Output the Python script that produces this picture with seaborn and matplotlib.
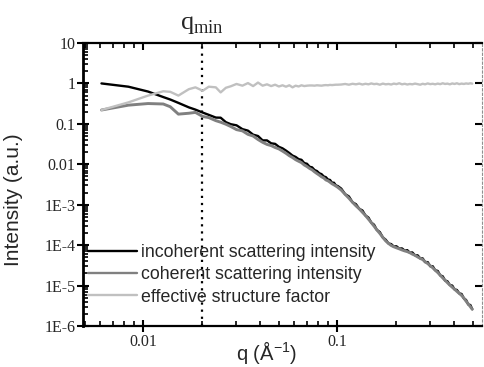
import numpy as np
import pandas as pd
import matplotlib
matplotlib.use("Agg")
import matplotlib.pyplot as plt
import matplotlib.ticker as mticker
import matplotlib.transforms as mtransforms
import seaborn as sns

# Scattering vector q (1/Angstrom)
q = [0.0061, 0.0084, 0.0106, 0.0127, 0.0138, 0.0152, 0.0172, 0.0186, 0.0203, 0.0218,
     0.0237, 0.0251, 0.0267, 0.0283, 0.0303, 0.0325, 0.0347, 0.0369, 0.0391, 0.0413,
     0.0435, 0.0457, 0.0479, 0.0501, 0.0523, 0.0545, 0.0567, 0.0589, 0.0611, 0.0633,
     0.0655, 0.0677, 0.0699, 0.0721, 0.0743, 0.0765, 0.0787, 0.0809, 0.0831, 0.0853,
     0.0875, 0.0897, 0.0919, 0.0941, 0.0963, 0.0985, 0.1007,
     0.105, 0.110, 0.115, 0.120, 0.125, 0.130, 0.135, 0.140, 0.145, 0.150,
     0.155, 0.160, 0.166, 0.172, 0.178, 0.184, 0.190, 0.196, 0.202, 0.209,
     0.216, 0.223, 0.230, 0.237, 0.244, 0.252, 0.260, 0.268, 0.276, 0.284,
     0.293, 0.302, 0.311, 0.320, 0.330, 0.340, 0.350, 0.360, 0.370, 0.381,
     0.392, 0.403, 0.414, 0.426, 0.438, 0.450, 0.462, 0.474, 0.486, 0.497]

incoherent = [1.00, 0.83, 0.63, 0.46, 0.40, 0.33, 0.256, 0.225, 0.19, 0.167,
              0.143, 0.142, 0.110, 0.098, 0.092, 0.074, 0.068, 0.054, 0.050, 0.039,
              0.039, 0.0330, 0.032, 0.0270, 0.0248, 0.0218, 0.0190, 0.0164, 0.0152, 0.0134,
              0.0129, 0.0107, 0.0103, 0.0087, 0.0084, 0.0072, 0.0068, 0.0060, 0.0057, 0.0050,
              0.0048, 0.0042, 0.0041, 0.0035, 0.0035, 0.0030, 0.0029,
              2.5e-3, 1.82e-3, 1.6e-3, 1.15e-3, 1.03e-3, 7.9e-4, 7.2e-4, 5.4e-4, 4.8e-4, 3.6e-4,
              3.2e-4, 2.4e-4, 2.1e-4, 1.55e-4, 1.36e-4, 1.1e-4, 1.06e-4, 9.2e-5, 9.4e-5, 8.2e-5,
              8.3e-5, 7.3e-5, 7.5e-5, 6.5e-5, 6.6e-5, 5.6e-5, 5.6e-5, 4.7e-5, 4.7e-5, 3.8e-5,
              3.8e-5, 3.0e-5, 3.0e-5, 2.4e-5, 2.3e-5, 1.78e-5, 1.7e-5, 1.33e-5, 1.28e-5, 1.03e-5,
              1.0e-5, 8.0e-6, 7.8e-6, 6.4e-6, 6.2e-6, 4.8e-6, 4.4e-6, 3.4e-6, 3.3e-6, 2.6e-6]

coherent = [0.22, 0.29, 0.318, 0.31, 0.265, 0.174, 0.183, 0.192, 0.152, 0.143,
            0.120, 0.110, 0.098, 0.086, 0.072, 0.067, 0.055, 0.050, 0.041, 0.035,
            0.031, 0.029, 0.026, 0.024, 0.0212, 0.0187, 0.0163, 0.0147, 0.0130, 0.0119,
            0.0110, 0.0096, 0.0088, 0.0079, 0.0073, 0.0065, 0.0059, 0.0054, 0.0049, 0.0046,
            0.0041, 0.0039, 0.0036, 0.0033, 0.0031, 0.0029, 0.0027,
            2.3e-3, 1.8e-3, 1.45e-3, 1.15e-3, 9.4e-4, 7.9e-4, 6.5e-4, 5.4e-4, 4.4e-4, 3.6e-4,
            2.95e-4, 2.4e-4, 1.95e-4, 1.55e-4, 1.27e-4, 1.1e-4, 9.8e-5, 9.1e-5, 8.6e-5, 8.1e-5,
            7.6e-5, 7.2e-5, 6.9e-5, 6.5e-5, 6.0e-5, 5.6e-5, 5.1e-5, 4.7e-5, 4.4e-5, 3.9e-5,
            3.5e-5, 3.1e-5, 2.75e-5, 2.4e-5, 2.1e-5, 1.8e-5, 1.55e-5, 1.35e-5, 1.18e-5, 1.03e-5,
            9.1e-6, 8.1e-6, 7.2e-6, 6.4e-6, 5.7e-6, 4.9e-6, 4.1e-6, 3.5e-6, 3.0e-6, 2.6e-6]

structure_factor = [0.22, 0.34, 0.50, 0.64, 0.62, 0.50, 0.72, 0.80, 0.66, 0.83,
                    0.80, 0.60, 0.78, 0.85, 0.97, 0.88, 1.02, 0.86, 1.05, 0.88,
                    0.95, 0.86, 0.93, 0.84, 0.90, 0.83, 0.90, 0.80, 0.88, 0.84,
                    0.90, 0.86, 0.88, 0.89, 0.89, 0.88, 0.90, 0.89, 0.88, 0.90,
                    0.91, 0.90, 0.92, 0.91, 0.92, 0.93, 0.93,
                    0.94, 0.97, 0.93, 0.98, 0.95, 0.99, 0.94, 0.98, 0.95, 1.00,
                    0.96, 0.98, 0.93, 0.99, 0.95, 0.97, 0.94, 0.99, 0.96, 1.01,
                    0.95, 0.98, 0.94, 0.97, 0.95, 0.99, 0.96, 0.93, 0.98, 0.95,
                    1.00, 0.96, 0.98, 0.95, 0.99, 0.96, 1.01, 0.97, 0.99, 0.95,
                    1.00, 0.97, 1.01, 0.96, 0.99, 0.97, 1.00, 0.98, 1.01, 0.99]

series_names = ["incoherent scattering intensity",
                "coherent scattering intensity",
                "effective structure factor"]
series_colors = ["#000000", "#808080", "#c0c0c0"]

q_min = 0.02
x_ticks = [0.01, 0.1]
x_tick_labels = ["0.01", "0.1"]
y_ticks = [10, 1, 0.1, 0.01, 1e-3, 1e-4, 1e-5, 1e-6]
y_tick_labels = ["10", "1", "0.1", "0.01", "1E-3", "1E-4", "1E-5", "1E-6"]

sns.set_style("ticks")
plt.rcParams["font.family"] = ["Liberation Sans", "DejaVu Sans"]
plt.rcParams["mathtext.fontset"] = "custom"
plt.rcParams["mathtext.rm"] = "Liberation Serif"
plt.rcParams["mathtext.sf"] = "Liberation Sans"

df = pd.DataFrame({
    "q": q * 3,
    "value": incoherent + coherent + structure_factor,
    "series": [series_names[0]] * len(q) + [series_names[1]] * len(q) + [series_names[2]] * len(q),
})

W, H = 484, 367
fig = plt.figure(figsize=(W / 100, H / 100), dpi=100)
ax = fig.add_axes([83 / W, 1 - 326 / H, 399 / W, 283 / H])

sns.lineplot(data=df, x="q", y="value", hue="series", hue_order=series_names,
             palette=series_colors, estimator=None, sort=False, linewidth=1.7, ax=ax)
ax.lines[1].set_linewidth(2.1)

ax.set_xscale("log")
ax.set_yscale("log")
ax.set_xlim(0.0049, 0.558)
ax.set_ylim(1e-6, 10)

# q_min marker
ax.axvline(q_min, color="black", linestyle=(0, (1.0, 2.2)), linewidth=1.6, zorder=1)
trans = mtransforms.blended_transform_factory(ax.transData, ax.transAxes)
ax.text(q_min, 1.025, r"q$_{\mathrm{min}}$", transform=trans, ha="center", va="bottom",
        fontfamily="Liberation Serif", fontsize=19)

# ticks
ax.xaxis.set_major_locator(mticker.FixedLocator(x_ticks))
ax.xaxis.set_major_formatter(mticker.FixedFormatter(x_tick_labels))
ax.xaxis.set_minor_locator(mticker.LogLocator(base=10, subs=np.arange(2, 10), numticks=100))
ax.xaxis.set_minor_formatter(mticker.NullFormatter())
ax.yaxis.set_major_locator(mticker.FixedLocator(y_ticks))
ax.yaxis.set_major_formatter(mticker.FixedFormatter(y_tick_labels))
ax.yaxis.set_minor_locator(mticker.LogLocator(base=10, subs=np.arange(2, 10), numticks=100))
ax.yaxis.set_minor_formatter(mticker.NullFormatter())

ax.tick_params(axis="both", which="both", direction="in", top=True, right=True, color="black")
ax.tick_params(axis="both", which="major", length=5, width=1.5, pad=6)
ax.tick_params(axis="both", which="minor", length=3.5, width=1.2)
ax.tick_params(axis="y", which="minor", right=False)
ax.tick_params(axis="y", which="major", pad=5.5)

for tick in ax.xaxis.get_major_ticks():
    tick.tick1line.set_marker("|")
    tick.tick1line.set_markersize(8)
for tick in ax.yaxis.get_major_ticks():
    tick.tick1line.set_marker("_")
    tick.tick1line.set_markersize(8)

for lab in ax.get_xticklabels() + ax.get_yticklabels():
    lab.set_fontfamily("Liberation Serif")
    lab.set_fontsize(11.5)

for side in ["left", "bottom", "top"]:
    ax.spines[side].set_color("black")
ax.spines["left"].set_linewidth(2.0)
ax.spines["bottom"].set_linewidth(1.6)
ax.spines["top"].set_linewidth(1.6)
ax.spines["right"].set_color("#909090")
ax.spines["right"].set_linewidth(0.8)
ax.spines["right"].set_linestyle((0, (2, 2)))

ax.set_xlabel(r"q (Å$^{\mathsf{-1}}$)", fontsize=14.5)
ax.set_ylabel("Intensity (a.u.)", fontsize=15)
ax.xaxis.set_label_coords(0.459, -0.045)
ax.yaxis.set_label_coords(-0.15, 0.445)

handles, labels = ax.get_legend_handles_labels()
ax.legend(handles, labels, loc="lower left", bbox_to_anchor=(0.012, 0.072),
          frameon=False, fontsize=12.8, handlelength=2.75, handletextpad=0.25,
          labelspacing=0.3, borderpad=0, borderaxespad=0)

fig.savefig("out.png", dpi=100)
